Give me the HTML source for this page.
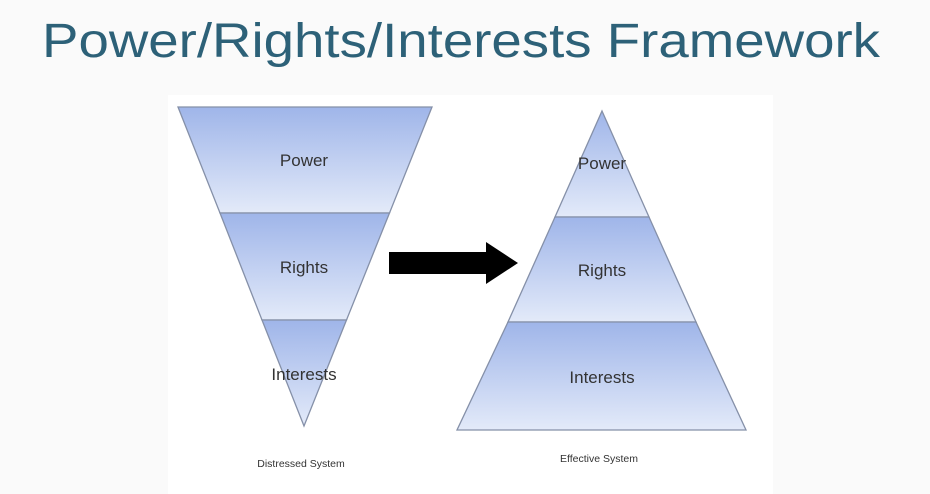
<!DOCTYPE html>
<html><head><meta charset="utf-8"><style>
html,body{margin:0;padding:0;background:#fff;}
svg{display:block;}
</style></head><body>
<svg width="930" height="494" viewBox="0 0 930 494" xmlns="http://www.w3.org/2000/svg">
<defs>
<linearGradient id="g" x1="0" y1="0" x2="0" y2="1">
<stop offset="0" stop-color="#9fb5e9"/><stop offset="1" stop-color="#e3eaf9"/>
</linearGradient>
</defs>
<rect width="930" height="494" fill="#fafafa"/>
<rect x="168" y="95" width="605" height="399" fill="#fff"/>
<text x="42" y="57" font-family="Liberation Sans, sans-serif" font-size="48" fill="#2d6178" textLength="838" lengthAdjust="spacingAndGlyphs">Power/Rights/Interests Framework</text>
<g stroke="#8590a8" stroke-width="1.3">
<polygon points="178,107 432,107 389.5,213 220,213" fill="url(#g)"/>
<polygon points="220,213 389.5,213 346.5,320 262,320" fill="url(#g)"/>
<polygon points="262,320 346.5,320 304,426" fill="url(#g)"/>
</g>
<g stroke="#8590a8" stroke-width="1.3">
<polygon points="602,111 649,217 555,217" fill="url(#g)"/>
<polygon points="555,217 649,217 696,322 508,322" fill="url(#g)"/>
<polygon points="508,322 696,322 746,430 457,430" fill="url(#g)"/>
</g>
<polygon points="389,252 486,252 486,242 518,263 486,284 486,274 389,274" fill="#000"/>
<g font-family="Liberation Sans, sans-serif" font-size="17" fill="#333" text-anchor="middle">
<text x="304" y="166">Power</text>
<text x="304" y="273">Rights</text>
<text x="304" y="380">Interests</text>
<text x="602" y="169">Power</text>
<text x="602" y="276">Rights</text>
<text x="602" y="383">Interests</text>
</g>
<g font-family="Liberation Sans, sans-serif" font-size="10.5" fill="#333" text-anchor="middle">
<text x="301" y="467">Distressed System</text>
<text x="599" y="462">Effective System</text>
</g>
</svg>
</body></html>
